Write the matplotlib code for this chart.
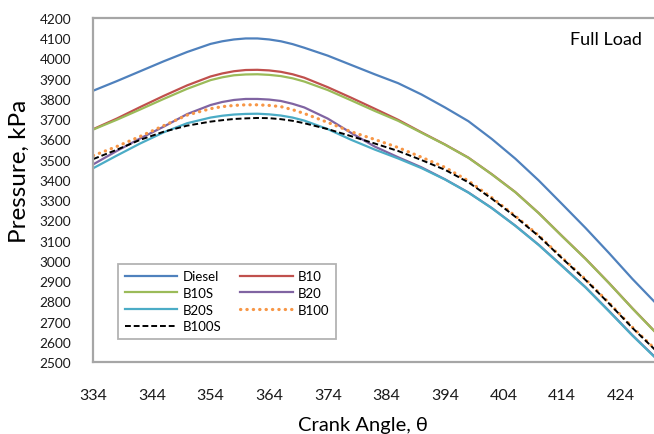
import matplotlib
matplotlib.use("Agg")
import matplotlib.pyplot as plt

plt.rcParams['font.family'] = ['Lato', 'DejaVu Sans']

crank_angle = [334, 338, 342, 346, 350, 354, 356, 358, 360, 362, 364, 366, 368, 370, 374, 378, 382,
               386, 390, 394, 398, 402, 406, 410, 414, 418, 422, 426, 430]

diesel = [3841, 3888, 3937, 3986, 4032, 4072, 4085, 4094, 4099, 4099, 4094, 4085, 4071, 4053, 4014, 3968, 3922,
          3878, 3822, 3758, 3690, 3602, 3505, 3397, 3280, 3162, 3038, 2910, 2790]
b10 = [3651, 3703, 3760, 3815, 3867, 3911, 3926, 3937, 3943, 3944, 3941, 3934, 3922, 3905, 3858, 3806, 3752,
       3697, 3635, 3575, 3510, 3428, 3340, 3236, 3122, 3010, 2890, 2765, 2645]
b10s = [3649, 3697, 3748, 3800, 3850, 3893, 3907, 3917, 3921, 3922, 3919, 3913, 3902, 3886, 3844, 3793, 3741,
        3692, 3633, 3574, 3509, 3427, 3339, 3235, 3121, 3009, 2889, 2764, 2644]
b20 = [3477, 3543, 3605, 3663, 3725, 3770, 3785, 3795, 3800, 3800, 3797, 3790, 3776, 3758, 3703, 3632, 3565,
       3512, 3462, 3403, 3338, 3261, 3174, 3079, 2975, 2869, 2752, 2632, 2520]
b20s = [3458, 3520, 3580, 3635, 3680, 3708, 3717, 3723, 3726, 3727, 3724, 3718, 3708, 3693, 3651, 3598, 3550,
        3506, 3458, 3402, 3337, 3260, 3173, 3078, 2973, 2868, 2750, 2630, 2518]
b100 = [3520, 3565, 3615, 3668, 3720, 3752, 3762, 3768, 3771, 3771, 3768, 3762, 3747, 3728, 3684, 3638, 3600,
        3560, 3512, 3462, 3395, 3312, 3222, 3125, 3015, 2908, 2792, 2671, 2560]
b100s = [3503, 3549, 3598, 3638, 3668, 3688, 3695, 3701, 3704, 3706, 3705, 3700, 3692, 3680, 3651, 3616, 3580,
         3543, 3498, 3450, 3388, 3307, 3218, 3122, 3012, 2905, 2789, 2668, 2556]

x_ticks = [334, 344, 354, 364, 374, 384, 394, 404, 414, 424]
y_ticks = list(range(2500, 4201, 100))

fig = plt.figure(figsize=(6.54, 4.35), dpi=100)
ax = fig.add_axes([0.1427, 0.1655, 0.8603, 0.7908])

lw = 1.6
h_diesel, = ax.plot(crank_angle, diesel, color='#4F81BD', lw=lw, label='Diesel')
h_b10, = ax.plot(crank_angle, b10, color='#C0504D', lw=lw, label='B10')
h_b10s, = ax.plot(crank_angle, b10s, color='#9BBB59', lw=lw, label='B10S')
h_b20, = ax.plot(crank_angle, b20, color='#8064A2', lw=lw, label='B20')
h_b20s, = ax.plot(crank_angle, b20s, color='#4BACC6', lw=lw, label='B20S')
h_b100, = ax.plot(crank_angle, b100, color='#F79646', lw=2.3, ls=(0, (0.1, 1.9)),
                  dash_capstyle='round', label='B100')
h_b100s, = ax.plot(crank_angle, b100s, color='black', lw=1.4, ls=(0, (3, 1.5)), label='B100S')

ax.set_xlim(334, 430)
ax.set_ylim(2500, 4200)
ax.set_xticks(x_ticks)
ax.set_yticks(y_ticks)
ax.tick_params(axis='x', length=0, pad=19, labelsize=11.5, colors='#1a1a1a')
ax.tick_params(axis='y', length=0, pad=16, labelsize=9.8, colors='#1a1a1a')

for sp in ax.spines.values():
    sp.set_color('#a6a6a6')
    sp.set_linewidth(1.6)

fig.text(0.555, 0.022, 'Crank Angle, \u03b8', ha='center', va='center', fontsize=14.5,
         family=['Lato', 'DejaVu Sans'])
fig.text(0.029, 0.607, 'Pressure, kPa', ha='center', va='center', rotation=90, fontsize=17.5)

ax.text(0.975, 0.94, 'Full Load', transform=ax.transAxes, ha='right', va='center', fontsize=13)

handles = [h_diesel, h_b10s, h_b20s, h_b100s, h_b10, h_b20, h_b100]
leg = ax.legend(handles=handles, labels=[h.get_label() for h in handles], ncol=2,
                loc='lower left', bbox_to_anchor=(0.032, 0.048), fontsize=9.5,
                frameon=True, fancybox=False, handlelength=4.0, handletextpad=0.4,
                columnspacing=1.4, labelspacing=0.35, borderpad=0.5)
leg.get_frame().set_edgecolor('#a0a0a0')
leg.get_frame().set_linewidth(1.3)

fig.savefig('out.png', dpi=100)
